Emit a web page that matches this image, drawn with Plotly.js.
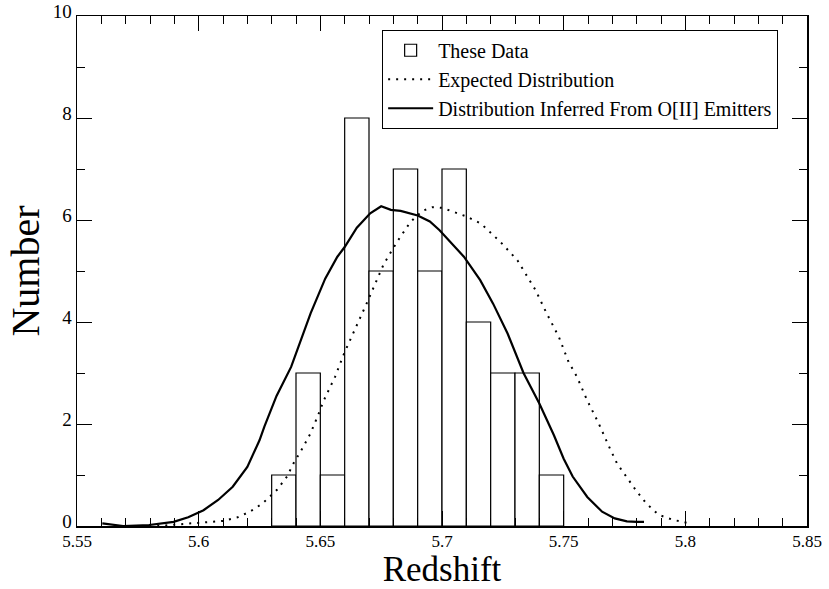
<!DOCTYPE html>
<html>
<head>
<meta charset="utf-8">
<script src="https://cdn.plot.ly/plotly-3.0.1.min.js"></script>
<style>html,body{margin:0;padding:0;background:#fff;}#chart{width:829px;height:589px;}</style>
</head>
<body>
<div id="chart"></div>
<script>
// Histogram of redshifts (bin centers, bin width 0.01)
const binCenters = [5.635, 5.645, 5.655, 5.665, 5.675, 5.685, 5.695, 5.705, 5.715, 5.725, 5.735, 5.745];
const binCounts  = [1, 3, 1, 8, 5, 7, 5, 7, 4, 3, 3, 1];
const binWidth = 0.01;

// Expected distribution (dotted)
const expectedX = [5.583, 5.5917, 5.598, 5.6039, 5.61, 5.616, 5.621, 5.6262, 5.6322, 5.6363, 5.639, 5.6426, 5.646, 5.6488, 5.6515, 5.656, 5.660, 5.669, 5.676, 5.6815, 5.687, 5.692, 5.696, 5.700, 5.705, 5.710, 5.716, 5.724, 5.731, 5.7385, 5.743, 5.748, 5.752, 5.7555, 5.7596, 5.7644, 5.769, 5.772, 5.776, 5.780, 5.784, 5.789, 5.795, 5.801];
const expectedY = [0.0, 0.03, 0.05, 0.07, 0.10, 0.17, 0.28, 0.44, 0.71, 0.97, 1.23, 1.52, 1.82, 2.14, 2.47, 2.92, 3.41, 4.36, 5.13, 5.57, 5.96, 6.18, 6.25, 6.24, 6.16, 6.07, 5.93, 5.57, 5.21, 4.62, 4.17, 3.71, 3.22, 2.92, 2.47, 2.01, 1.52, 1.22, 0.95, 0.68, 0.44, 0.22, 0.12, 0.06];

// Distribution inferred from O[II] emitters (solid)
const inferredX = [5.5604, 5.565, 5.569, 5.5796, 5.5897, 5.5957, 5.602, 5.608, 5.614, 5.620, 5.625, 5.627, 5.632, 5.638, 5.646, 5.652, 5.657, 5.660, 5.665, 5.6705, 5.675, 5.679, 5.683, 5.690, 5.695, 5.699, 5.704, 5.709, 5.7157, 5.721, 5.727, 5.7335, 5.740, 5.746, 5.750, 5.7537, 5.7597, 5.7658, 5.771, 5.776, 5.780, 5.783];
const inferredY = [0.05, 0.02, 0.0, 0.02, 0.08, 0.17, 0.31, 0.51, 0.77, 1.16, 1.68, 1.95, 2.55, 3.12, 4.17, 4.85, 5.28, 5.47, 5.85, 6.13, 6.27, 6.20, 6.18, 6.09, 5.97, 5.80, 5.55, 5.28, 4.82, 4.36, 3.77, 3.00, 2.40, 1.78, 1.32, 0.97, 0.57, 0.28, 0.15, 0.09, 0.08, 0.08];

const xTickVals = [5.55, 5.6, 5.65, 5.7, 5.75, 5.8, 5.85];
const xTickText = ['5.55', '5.6', '5.65', '5.7', '5.75', '5.8', '5.85'];
const yTickVals = [0, 2, 4, 6, 8, 10];

const FONT = '"Liberation Serif", "Times New Roman", serif';

const data = [
  {
    type: 'bar', x: binCenters, y: binCounts, width: binWidth,
    name: 'These Data',
    marker: {color: '#ffffff', line: {color: '#000000', width: 1.2}},
    hoverinfo: 'skip'
  },
  {
    type: 'scatter', mode: 'lines', x: expectedX, y: expectedY,
    name: 'Expected Distribution',
    line: {color: '#000000', width: 2, dash: '2px,6px'}
  },
  {
    type: 'scatter', mode: 'lines', x: inferredX, y: inferredY,
    name: 'Distribution Inferred From O[II] Emitters',
    line: {color: '#000000', width: 2.2}
  }
];

const layout = {
  width: 829, height: 589,
  margin: {l: 77, r: 22, t: 16, b: 63},
  paper_bgcolor: '#ffffff', plot_bgcolor: '#ffffff',
  font: {family: FONT, color: '#000000'},
  showlegend: true,
  bargap: 0,
  legend: {
    x: 0.418, y: 0.973, xanchor: 'left', yanchor: 'top',
    bgcolor: '#ffffff', bordercolor: '#000000', borderwidth: 1,
    font: {family: FONT, size: 20, color: '#000000'},
    itemwidth: 45,
    tracegroupgap: 0
  },
  xaxis: {
    range: [5.55, 5.85], autorange: false,
    tickvals: xTickVals, ticktext: xTickText,
    ticks: 'inside', ticklen: 15, tickwidth: 1, tickcolor: '#000000',
    minor: {ticks: 'inside', dtick: 0.01, tick0: 5.55, ticklen: 8, tickwidth: 1, tickcolor: '#000000', showgrid: false},
    showline: true, linecolor: '#000000', linewidth: 1.5, mirror: 'ticks',
    showgrid: false, zeroline: false,
    tickfont: {family: FONT, size: 17, color: '#000000'},
    ticklabelstandoff: -1,
    title: {text: 'Redshift', font: {family: FONT, size: 35, color: '#000000'}, standoff: 5}
  },
  yaxis: {
    range: [0, 10], autorange: false,
    tickvals: yTickVals,
    ticks: 'inside', ticklen: 15, tickwidth: 1, tickcolor: '#000000',
    minor: {ticks: 'inside', dtick: 1, tick0: 0, ticklen: 8, tickwidth: 1, tickcolor: '#000000', showgrid: false},
    showline: true, linecolor: '#000000', linewidth: 1.5, mirror: 'ticks',
    showgrid: false, zeroline: false,
    tickfont: {family: FONT, size: 19, color: '#000000'},
    ticklabelshift: -5,
    title: {text: 'Number', font: {family: FONT, size: 40, color: '#000000'}, standoff: 0}
  }
};

Plotly.newPlot('chart', data, layout, {staticPlot: true, displayModeBar: false});
</script>
</body>
</html>
